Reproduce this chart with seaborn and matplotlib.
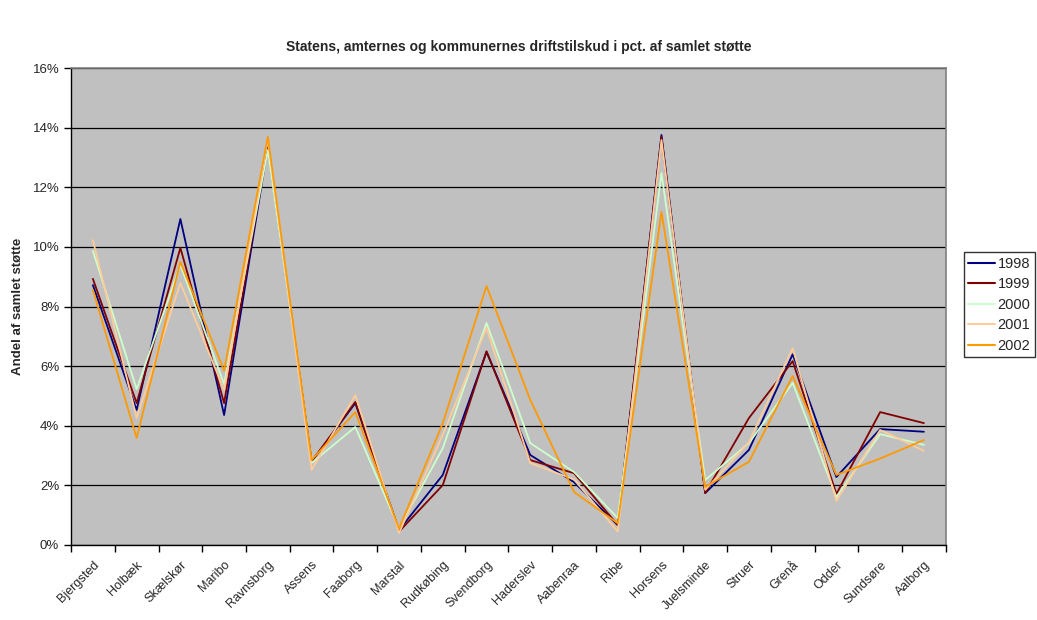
import pandas as pd
import matplotlib
matplotlib.use('Agg')
import matplotlib.pyplot as plt
import seaborn as sns
from matplotlib.ticker import PercentFormatter, MultipleLocator

kommuner = ['Bjergsted', 'Holbæk', 'Skælskør', 'Maribo', 'Ravnsborg', 'Assens', 'Faaborg',
            'Marstal', 'Rudkøbing', 'Svendborg', 'Haderslev', 'Aabenraa', 'Ribe', 'Horsens',
            'Juelsminde', 'Struer', 'Grenå', 'Odder', 'Sundsøre', 'Aalborg']
years = ['1998', '1999', '2000', '2001', '2002']

# andel af samlet støtte i pct.
v1998 = [8.72, 4.53, 10.94, 4.36, 13.36, 2.80, 4.76, 0.50, 2.35, 6.48, 3.02, 2.11, 0.67, 13.76, 1.74, 3.19, 6.40, 2.28, 3.89, 3.80]
v1999 = [8.93, 4.76, 9.97, 4.76, 13.42, 2.80, 4.80, 0.45, 2.01, 6.50, 2.85, 2.41, 0.67, 13.70, 1.74, 4.26, 6.17, 1.71, 4.46, 4.09]
v2000 = [9.87, 5.23, 9.40, 5.40, 13.25, 2.75, 3.96, 0.55, 3.25, 7.45, 3.42, 2.45, 0.90, 12.48, 2.18, 3.42, 5.44, 1.61, 3.72, 3.36]
v2001 = [10.23, 4.26, 8.79, 5.20, 13.60, 2.52, 5.03, 0.40, 3.70, 7.28, 2.75, 2.20, 0.45, 13.59, 1.85, 3.45, 6.60, 1.48, 3.86, 3.16]
v2002 = [8.56, 3.59, 9.50, 5.85, 13.70, 2.85, 4.46, 0.55, 4.09, 8.69, 4.87, 1.78, 0.73, 11.18, 1.95, 2.79, 5.67, 2.35, 2.90, 3.52]

colors = ['#000080', '#800000', '#CCFFCC', '#FFCC99', '#FF9900']

rows = []
for yr, vals in zip(years, [v1998, v1999, v2000, v2001, v2002]):
    for k, v in zip(kommuner, vals):
        rows.append({'kommune': k, 'aar': yr, 'andel': v})
df = pd.DataFrame(rows)

sns.set_style('white')
plt.rcParams['font.family'] = ['Liberation Sans', 'DejaVu Sans']

fig = plt.figure(figsize=(10.37, 6.2), dpi=100)
ax = fig.add_axes([0.0685, 0.121, 0.8435, 0.769])
ax.set_facecolor('#C0C0C0')

sns.lineplot(data=df, x='kommune', y='andel', hue='aar', palette=colors,
             linewidth=1.3, sort=False, ax=ax)

ax.set_xlim(-0.5, len(kommuner) - 0.5)
ax.set_ylim(0, 16)
ax.yaxis.set_major_locator(MultipleLocator(2))
ax.yaxis.set_major_formatter(PercentFormatter(decimals=0))
ax.grid(axis='y', color='black', linewidth=0.9)
ax.set_axisbelow(True)

ax.set_xticks(range(len(kommuner)))
ax.set_xticklabels(kommuner, rotation=45, ha='right', rotation_mode='anchor', fontsize=9)
ax.set_xticks([i - 0.5 for i in range(len(kommuner) + 1)], minor=True)
ax.tick_params(axis='x', which='major', length=0, pad=10)
ax.tick_params(axis='x', which='minor', length=5, width=1, color='black', direction='out', bottom=True)
ax.tick_params(axis='y', length=5, width=1, color='black', direction='out', left=True, labelsize=9.5)

for side in ['top', 'right']:
    ax.spines[side].set_color('#808080')
    ax.spines[side].set_linewidth(1.2)
for side in ['left', 'bottom']:
    ax.spines[side].set_color('black')
    ax.spines[side].set_linewidth(1)

ax.set_xlabel('')
ax.set_ylabel('Andel af samlet støtte', fontsize=9.5, fontweight='bold', labelpad=6)
fig.suptitle('Statens, amternes og kommunernes driftstilskud i pct. af samlet støtte',
             fontsize=10, fontweight='bold', y=0.935)

leg = ax.legend(title=None, loc='upper left', bbox_to_anchor=(1.021, 0.614),
                frameon=True, fancybox=False, fontsize=10.5, handlelength=1.85,
                handletextpad=0.15, borderpad=0.3, labelspacing=0.45, borderaxespad=0)
leg.get_frame().set_edgecolor('black')
leg.get_frame().set_linewidth(1)
for line in leg.get_lines():
    line.set_linewidth(1.5)

fig.savefig('out.png', dpi=100, facecolor='white')
